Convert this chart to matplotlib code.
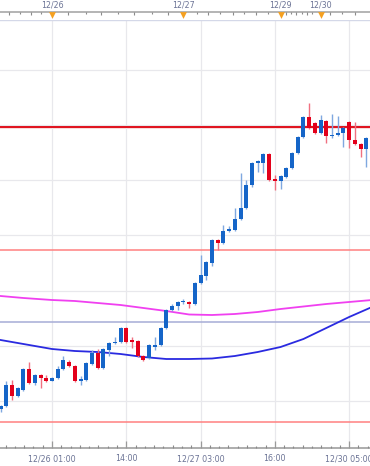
import numpy as np
import matplotlib
matplotlib.use("Agg")
import matplotlib.pyplot as plt

# hourly candles, index 0 = 12/26 01:00 (weekend gap collapsed); price in chart units
idx = list(range(-9, 56))
opens = [-8, -5, 16, 5, 11, 32, 18, 26, 23, 20, 23, 32, 39, 35, 20, 21, 37, 48, 33, 51,
         58, 59, 73, 61, 60, 45, 43, 54, 56, 73, 91, 95, 99, 99, 97, 118, 125, 138, 161, 158,
         170, 171, 182, 193, 216, 238, 238, 247, 222, 220, 224, 233, 248, 264, 284, 278, 268, 280,
         265, 266, 268, 279, 261, 257, 252]
highs = [-4, 20, 21, 14, 33, 39, 27, 27, 26, 24, 35, 45, 41, 36, 25, 39, 51, 52, 53, 59,
         64, 74, 74, 64, 61, 46, 57, 64, 74, 92, 97, 100, 102, 100, 119, 146, 140, 162, 162, 176,
         175, 193, 228, 221, 239, 241, 248, 248, 226, 226, 234, 249, 265, 285, 298, 279, 286, 281,
         287, 285, 274, 280, 279, 258, 264]
lows = [-11, -6, 1, 4, 10, 17, 16, 13, 19, 20, 22, 31, 34, 19, 16, 20, 36, 32, 32, 45,
        57, 58, 58, 53, 44, 40, 42, 51, 55, 72, 90, 91, 97, 93, 96, 117, 121, 135, 151, 157,
        169, 170, 181, 192, 214, 229, 228, 220, 211, 212, 223, 232, 247, 263, 272, 267, 267, 258,
        263, 265, 254, 253, 256, 244, 234]
closes = [-5, 16, 5, 13, 32, 18, 26, 23, 20, 23, 32, 41, 35, 20, 22, 38, 48, 33, 52, 58,
          59, 73, 59, 59, 45, 41, 56, 56, 73, 91, 95, 99, 100, 97, 118, 126, 139, 161, 158, 170,
          172, 182, 193, 216, 238, 240, 247, 221, 220, 225, 233, 248, 264, 284, 273, 268, 281, 265,
          266, 268, 273, 261, 257, 252, 263]

# moving averages (sampled)
ma_x = [-9, -5, 0, 4, 8, 12, 16, 20, 24, 28, 32, 36, 40, 44, 48, 52, 56]
ma_slow = [105, 103, 101, 100, 98, 96, 93, 90, 86.5, 86, 87, 89, 92, 94.5, 97, 99, 101]
ma_fast = [61, 57, 52, 50, 49, 47, 44, 42, 42, 42.5, 45, 49, 54, 62, 73, 84, 94]

# horizontal levels
level_main = 274
level_upper = 151
level_mid = 79
level_lower = -21

# axes labels
bottom_ticks = [0, 13, 26, 39, 52]
bottom_labels = ["12/26 01:00", "14:00", "12/27 03:00", "16:00", "12/30 05:00"]
date_marks = [0, 23, 40, 47]
date_labels = ["12/26", "12/27", "12/29", "12/30"]
top_minor = [-7.5, -5.6, -3.7, -1.9, 2.8, 5.9, 8.6, 11.5, 14.3, 17.5, 20.3, 25.3, 27.3,
             29.4, 31.6, 33.6, 35.7, 37.8, 41, 41.8, 42.7, 43.7, 44.6, 45.5, 48.6, 50.7, 53]

W, H = 370, 466
fig = plt.figure(figsize=(W / 100, H / 100), dpi=100)
xlim = (-9.1, 55.65)
txt_col = "#6b7395"

ax = fig.add_axes([0, 18 / H, 1, 428 / H])
ax.set_xlim(*xlim)
ax.set_ylim(-47, 381)
ax.set_xticks(bottom_ticks)
ax.set_yticks(np.arange(0, 381, 55.2))
ax.grid(True, color="#e8e8ec", lw=0.9)
ax.tick_params(length=0, labelbottom=False, labelleft=False)
for s in ax.spines.values():
    s.set_visible(False)
ax.axhline(381, color="#d4d8e8", lw=1)

ax.axhline(level_main, color="#e0101c", lw=1.4, zorder=2)
ax.axhline(level_main, color="#f08080", lw=2.6, alpha=0.35, zorder=1)
ax.axhline(level_upper, color="#ff8080", lw=1.1, zorder=2)
ax.axhline(level_mid, color="#a6acd6", lw=1.1, zorder=2)
ax.axhline(level_lower, color="#ff8080", lw=1.1, zorder=2)

ax.plot(ma_x, ma_slow, color="#f040f0", lw=1.3, zorder=3)
ax.plot(ma_x, ma_fast, color="#2a2ae0", lw=1.3, zorder=3)

o = np.array(opens)
c = np.array(closes)
up = c >= o
col = np.where(up, "#1565c8", "#e3001b")
wick_col = np.where(up, "#7fa8e0", "#f07080")
x = np.array(idx)
ax.vlines(x, lows, highs, colors=wick_col, lw=1, zorder=4)
bottoms = np.minimum(o, c)
heights = np.maximum(np.abs(c - o), 1.2)
ax.bar(x, heights, bottom=bottoms, width=0.68, color=col, zorder=5, linewidth=0)

# top date strip
axt = fig.add_axes([0, (H - 20) / H, 1, 20 / H])
axt.set_xlim(*xlim)
axt.set_ylim(20, 0)
axt.axis("off")
axt.axhline(12, color="#a8a8a8", lw=1.2)
axt.vlines(top_minor, 12, [14 if k % 2 else 15.2 for k in range(len(top_minor))],
           color="#8a8a8a", lw=0.8)
axt.scatter(date_marks, [15] * len(date_marks), marker="v", s=24, color="#f5a020",
            linewidths=0, zorder=3)
for dm, dl in zip(date_marks, date_labels):
    axt.text(dm, 5.5, dl, ha="center", va="center", fontsize=5.7, color=txt_col)

# bottom time strip (overlaps plot bottom so the minor ticks can point up)
axb = fig.add_axes([0, 0, 1, 28 / H])
axb.set_xlim(*xlim)
axb.set_ylim(28, 0)
axb.axis("off")
axb.patch.set_alpha(0)
axb.axhline(10, color="#a0a0a0", lw=1.2)
step = 13 / 8
minor = np.arange(-6 * step, 56, step)
for k, m in enumerate(minor):
    if k % 8 == 6:
        continue
    axb.vlines(m, 10, 7 if k % 2 else 8.2, color="#8a8a8a", lw=0.8)
axb.vlines(bottom_ticks, 3, 10, color="#9a9a9a", lw=0.9)
for bt, bl in zip(bottom_ticks, bottom_labels):
    axb.text(bt, 20.5, bl, ha="center", va="center", fontsize=5.7, color=txt_col)

fig.savefig("out.png", dpi=100)
